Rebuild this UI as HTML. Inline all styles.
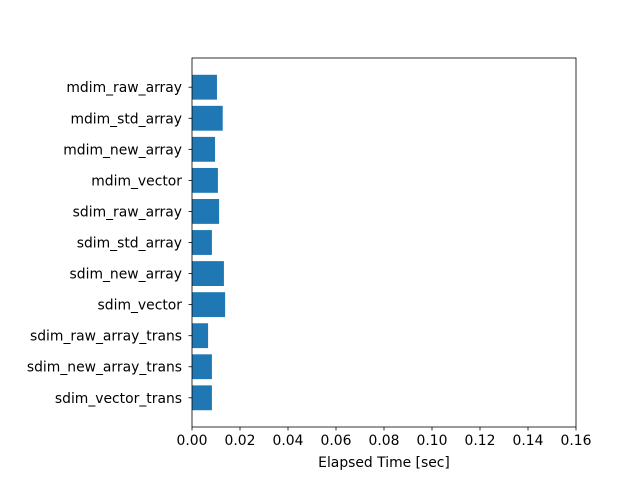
<!DOCTYPE html>
<html><head><meta charset="utf-8"><style>body{margin:0;background:#fff}svg text{font-family:"DejaVu Sans","Liberation Sans",sans-serif;font-size:13.9px;fill:#000}</style></head>
<body>
<svg id="chart" width="640" height="480" xmlns="http://www.w3.org/2000/svg">
<rect width="640" height="480" fill="#fff"/>
<g id="bars"></g><g id="axes"></g>
</svg>
<script>
const categories=["mdim_raw_array","mdim_std_array","mdim_new_array","mdim_vector","sdim_raw_array","sdim_std_array","sdim_new_array","sdim_vector","sdim_raw_array_trans","sdim_new_array_trans","sdim_vector_trans"];
const values=[0.0104,0.0128,0.0096,0.0108,0.0113,0.0083,0.0133,0.0138,0.0067,0.0083,0.0083];
const xTicks=[0,0.02,0.04,0.06,0.08,0.10,0.12,0.14,0.16];
const xTickLabels=["0.00","0.02","0.04","0.06","0.08","0.10","0.12","0.14","0.16"];
const L=192,R=576,T=58,B=427;
const ns="http://www.w3.org/2000/svg";
function X(v){return L+(v-0)/(0.16)*(R-L);}
const n=categories.length, span=(n-0.2)*1.1;
const ymin=-0.4-(n-0.2)*0.05;
function Y(i){return T+(i-ymin)/span*(B-T);}
const bars=document.getElementById('bars'),axes=document.getElementById('axes');
function mk(tag,attrs,parent){const e=document.createElementNS(ns,tag);for(const k in attrs)e.setAttribute(k,attrs[k]);parent.appendChild(e);return e;}
values.forEach((v,i)=>{
 const r=mk('rect',{x:X(0),y:Y(i-0.4),width:X(v)-X(0),height:Y(i+0.4)-Y(i-0.4),fill:'#1f77b4'},bars);
 
 
 mk('line',{x1:L-3.5,x2:L,y1:Y(i),y2:Y(i),stroke:'#000','stroke-width':0.8},axes);
 const tx=mk('text',{x:L-10,y:Y(i)+5,'text-anchor':'end'},axes);tx.textContent=categories[i];
 
 
});
xTicks.forEach((v,i)=>{
 mk('line',{x1:X(v),x2:X(v),y1:B,y2:B+3.5,stroke:'#000','stroke-width':0.8},axes);
 const tx=mk('text',{x:X(v),y:B+18,'text-anchor':'middle'},axes);tx.textContent=xTickLabels[i];
 
 
});
const f=mk('rect',{x:L,y:T,width:R-L,height:B-T,fill:'none',stroke:'#000','stroke-width':0.8},axes);


const xl=mk('text',{x:(L+R)/2,y:467,'text-anchor':'middle'},axes);xl.textContent="Elapsed Time [sec]";


</script>
</body></html>
